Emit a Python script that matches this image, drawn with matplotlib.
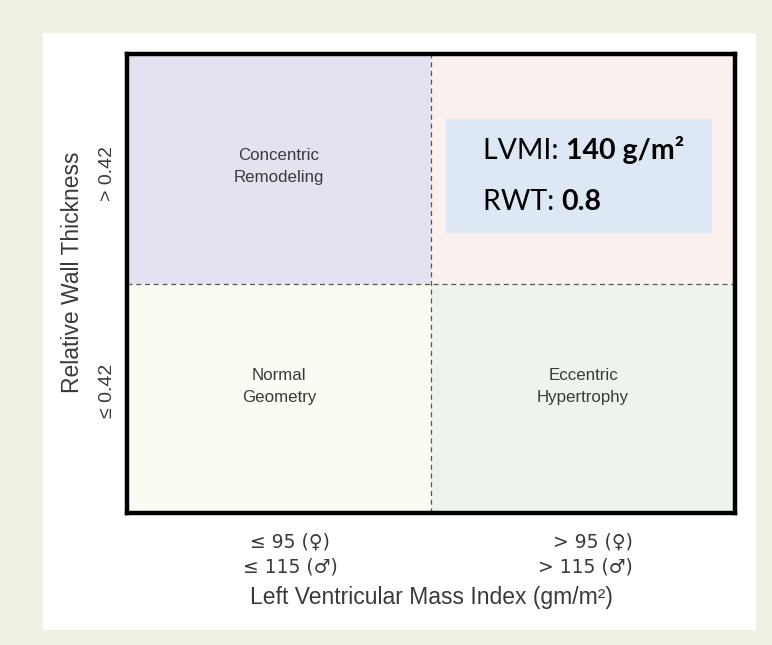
import matplotlib
matplotlib.use('Agg')
import matplotlib.pyplot as plt
from matplotlib.patches import Rectangle

# quadrant data (column 0 = normal mass, column 1 = increased mass; row 0 = RWT <= 0.42)
quad_names = ['Normal\nGeometry', 'Eccentric\nHypertrophy',
              'Concentric\nRemodeling', '']
quad_cols = [0, 1, 0, 1]
quad_rows = [0, 0, 1, 1]
quad_colors = ['#FBFBF3', '#EFF3EE', '#E4E2F0', '#FAF0EE']

x_tick_labels = ['\u2264 95 (\u2640)\n\u2264 115 (\u2642)', '> 95 (\u2640)\n> 115 (\u2642)']
y_tick_labels = ['\u2264 0.42', '> 0.42']
x_title = 'Left Ventricular Mass Index (gm/m\u00b2)'
y_title = 'Relative Wall Thickness'

lvmi_value = '140 g/m\u00b2'
rwt_value = '0.8'

TEXT_GRAY = '#3a3a3a'
SANS = ['Liberation Sans', 'DejaVu Sans']

W, H = 772, 645
fig = plt.figure(figsize=(W / 100, H / 100), dpi=100)
fig.patch.set_facecolor('#F0F0E3')

# white panel
fig.patches.append(Rectangle((43 / W, 1 - 630 / H), (756 - 43) / W, (630 - 33) / H,
                             transform=fig.transFigure, facecolor='white',
                             edgecolor='none', zorder=-10))

ax = fig.add_axes([127 / W, 1 - 513 / H, (735 - 127) / W, (513 - 54) / H])
ax.set_xlim(0, 2)
ax.set_ylim(0, 2)

ax.bar(quad_cols, [1] * 4, bottom=quad_rows, width=1, align='edge',
       color=quad_colors, edgecolor='none', zorder=0)

for name, c, r in zip(quad_names, quad_cols, quad_rows):
    if name:
        ax.text(c + 0.5, r + 0.55 - 0.04 * r, name, ha='center', va='center',
                fontsize=12.2, color=TEXT_GRAY, family=SANS, linespacing=1.55)

ax.axvline(1, color='#555555', lw=0.9, ls=(0, (4, 3)), zorder=1)
ax.axhline(1, color='#555555', lw=0.9, ls=(0, (4, 3)), zorder=1)

for s in ax.spines.values():
    s.set_linewidth(3.2)
    s.set_color('black')

ax.set_xticks([])
ax.set_yticks([])

# x tick labels
ax.text(0.536, -0.182, x_tick_labels[0], ha='center', va='center', fontsize=13.5,
        color=TEXT_GRAY, family=['DejaVu Sans'], linespacing=1.4,
        multialignment='center')
ax.text(1.664, -0.182, x_tick_labels[1], ha='right', va='center', fontsize=13.5,
        color=TEXT_GRAY, family=['DejaVu Sans'], linespacing=1.4,
        multialignment='right')
ax.text(1.0, -0.37, x_title, ha='center', va='center', fontsize=16.5,
        color=TEXT_GRAY, family=SANS)

# y tick labels
ax.text(-0.065, 1.48, y_tick_labels[1], ha='center', va='center', rotation=90,
        fontsize=14, color=TEXT_GRAY, family=SANS)
ax.text(-0.065, 0.53, y_tick_labels[0], ha='center', va='center', rotation=90,
        fontsize=14, color=TEXT_GRAY, family=SANS)
ax.text(-0.178, 1.05, y_title, ha='center', va='center', rotation=90,
        fontsize=16.5, color=TEXT_GRAY, family=SANS)

# value box
ax.add_patch(Rectangle((1.049, 1.22), 0.875, 0.497, facecolor='#DDE8F4',
                       edgecolor='none', zorder=2))
t1 = ax.text(1.171, 1.542, 'LVMI: ', fontsize=20.5, family='Lato',
             color='black', va='baseline', zorder=3)
ax.annotate(lvmi_value, xy=(1, 0), xycoords=t1, va='bottom', fontsize=20.5,
            family='Lato', fontweight='bold', color='black', zorder=3)
t2 = ax.text(1.171, 1.32, 'RWT: ', fontsize=20.5, family='Lato',
             color='black', va='baseline', zorder=3)
ax.annotate(rwt_value, xy=(1, 0), xycoords=t2, va='bottom', fontsize=20.5,
            family='Lato', fontweight='bold', color='black', zorder=3)

fig.savefig('out.png', dpi=100, facecolor=fig.get_facecolor())
